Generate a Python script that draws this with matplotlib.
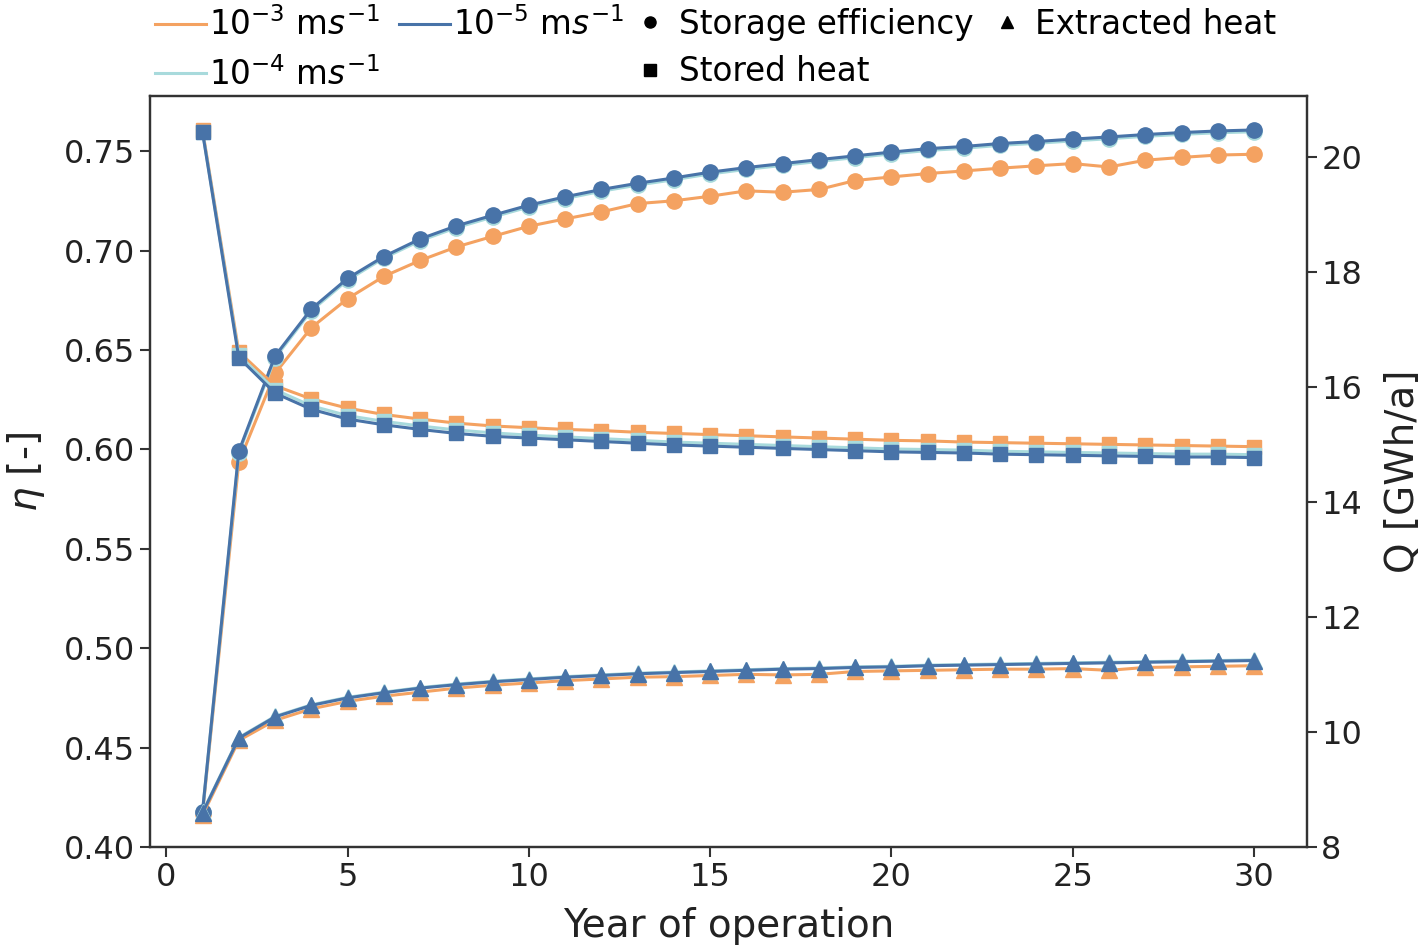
import matplotlib
matplotlib.use('Agg')
import matplotlib.pyplot as plt
from matplotlib.lines import Line2D
import numpy as np

years = np.arange(1, 31)

# storage efficiency [-]
eta_e3 = [0.417, 0.5935, 0.6383, 0.6612, 0.6758, 0.687, 0.695, 0.7018, 0.7071, 0.7122,
          0.7159, 0.7194, 0.7236, 0.725, 0.7273, 0.730, 0.7293, 0.7307, 0.7352, 0.737,
          0.7387, 0.740, 0.7414, 0.7426, 0.7437, 0.742, 0.7454, 0.7468, 0.748, 0.7484]
eta_e4 = [0.418, 0.598, 0.646, 0.6697, 0.6851, 0.6962, 0.7049, 0.7115, 0.7168, 0.7219,
          0.7261, 0.7298, 0.7329, 0.7356, 0.7385, 0.7408, 0.7428, 0.7448, 0.7467, 0.7486,
          0.7503, 0.7514, 0.7529, 0.7539, 0.7551, 0.7562, 0.7574, 0.7584, 0.7592, 0.7597]
eta_e5 = [0.418, 0.599, 0.647, 0.6706, 0.686, 0.697, 0.7058, 0.7124, 0.7177, 0.7228,
          0.727, 0.7307, 0.7338, 0.7365, 0.7394, 0.7417, 0.7437, 0.7457, 0.7476, 0.7495,
          0.7512, 0.7523, 0.7538, 0.7548, 0.756, 0.7571, 0.7583, 0.7593, 0.7601, 0.7606]

# stored heat [GWh/a]
stored_e3 = [20.48, 16.62, 16.03, 15.80, 15.64, 15.53, 15.45, 15.38, 15.33, 15.30,
             15.27, 15.25, 15.22, 15.20, 15.18, 15.16, 15.14, 15.12, 15.10, 15.08,
             15.07, 15.05, 15.04, 15.03, 15.02, 15.01, 15.00, 14.99, 14.98, 14.97]
stored_e4 = [20.45, 16.56, 15.96, 15.68, 15.51, 15.41, 15.33, 15.26, 15.21, 15.17,
             15.14, 15.11, 15.08, 15.05, 15.03, 15.01, 14.99, 14.97, 14.95, 14.93,
             14.92, 14.91, 14.89, 14.88, 14.87, 14.86, 14.85, 14.84, 14.84, 14.83]
stored_e5 = [20.44, 16.52, 15.90, 15.62, 15.45, 15.35, 15.27, 15.20, 15.15, 15.12,
             15.09, 15.06, 15.03, 15.00, 14.98, 14.96, 14.94, 14.92, 14.90, 14.88,
             14.87, 14.86, 14.84, 14.83, 14.82, 14.81, 14.80, 14.79, 14.79, 14.78]

# extracted heat [GWh/a]
extracted_e3 = [8.56, 9.86, 10.21, 10.41, 10.54, 10.63, 10.70, 10.77, 10.82, 10.86,
                10.90, 10.93, 10.96, 10.97, 10.99, 11.01, 11.00, 11.01, 11.06, 11.07,
                11.08, 11.09, 11.10, 11.10, 11.11, 11.08, 11.13, 11.14, 11.15, 11.16]
extracted_e4 = [8.61, 9.91, 10.28, 10.48, 10.61, 10.70, 10.78, 10.84, 10.89, 10.93,
                10.97, 11.00, 11.03, 11.05, 11.07, 11.09, 11.11, 11.12, 11.14, 11.15,
                11.17, 11.18, 11.19, 11.20, 11.21, 11.22, 11.23, 11.24, 11.25, 11.26]
extracted_e5 = [8.60, 9.90, 10.27, 10.47, 10.60, 10.69, 10.77, 10.83, 10.88, 10.92,
                10.96, 10.99, 11.02, 11.04, 11.06, 11.08, 11.10, 11.11, 11.13, 11.14,
                11.16, 11.17, 11.18, 11.19, 11.20, 11.21, 11.22, 11.23, 11.24, 11.25]

labels = ['$10^{-3}$ m$s^{-1}$', '$10^{-4}$ m$s^{-1}$', '$10^{-5}$ m$s^{-1}$']
colors = ['#f4a261', '#a8dadc', '#4873a8']
quantities = ['Storage efficiency', 'Stored heat', 'Extracted heat']

eta = [eta_e3, eta_e4, eta_e5]
stored = [stored_e3, stored_e4, stored_e5]
extracted = [extracted_e3, extracted_e4, extracted_e5]

fig = plt.figure(figsize=(14.28, 9.5), dpi=100)
ax = fig.add_axes([0.105, 0.108, 0.81, 0.791])
ax2 = ax.twinx()

lw = 2.2
ms = 11
for i in range(3):
    ax.plot(years, eta[i], color=colors[i], lw=lw, marker='o', ms=ms)
    ax2.plot(years, stored[i], color=colors[i], lw=lw, marker='s', ms=ms - 0.5)
    ax2.plot(years, extracted[i], color=colors[i], lw=lw, marker='^', ms=ms + 0.5)

ax.set_xlim(-0.45, 31.45)
ax.set_ylim(0.40, 0.7777)
ax2.set_ylim(8.0, 21.07)
ax.set_xticks([0, 5, 10, 15, 20, 25, 30])
ax.set_yticks(np.arange(0.40, 0.751, 0.05))
ax.yaxis.set_major_formatter(matplotlib.ticker.FormatStrFormatter('%.2f'))
ax2.set_yticks([8, 10, 12, 14, 16, 18, 20])

for a in (ax, ax2):
    a.tick_params(labelsize=23, length=7, width=1.5, color='#333333', labelcolor='#222222')
    for s in a.spines.values():
        s.set_linewidth(1.6)
        s.set_color('#333333')

ax.set_xlabel('Year of operation', fontsize=28, color='#222222', labelpad=10)
ax.set_ylabel(r'$\eta$ [-]', fontsize=28, color='#222222', labelpad=12)
ax2.set_ylabel('Q [GWh/a]', fontsize=28, color='#222222', labelpad=16)

# permeability legend (lines)
perm_handles = [Line2D([], [], color=c, lw=lw) for c in colors]
fig.legend(perm_handles, labels, loc='upper left', bbox_to_anchor=(0.1085, 0.992), ncol=2,
           frameon=False, fontsize=23.5, handlelength=1.55, handletextpad=0.1,
           columnspacing=0.6, labelspacing=0.45, borderpad=0, borderaxespad=0)

# quantity legend (markers)
q_handles = [Line2D([], [], color='black', marker=m, ls='none', ms=8) for m in ['o', 's', '^']]
fig.legend(q_handles, quantities, loc='upper left', bbox_to_anchor=(0.4377, 0.992), ncol=2,
           frameon=False, fontsize=23.5, handlelength=1.55, handletextpad=0.1,
           columnspacing=0.25, labelspacing=0.45, borderpad=0, borderaxespad=0)

fig.savefig('out.png', dpi=100)
